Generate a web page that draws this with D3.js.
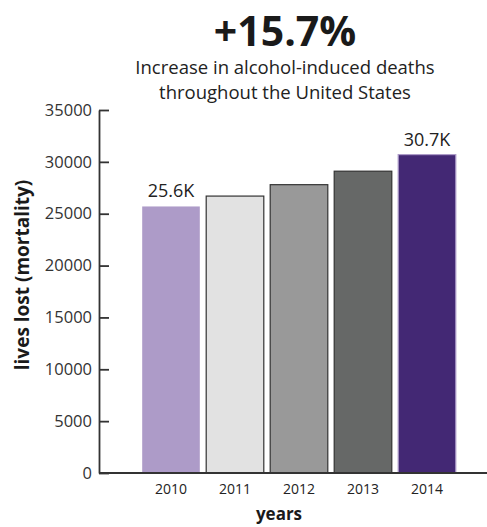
<!DOCTYPE html>
<html>
<head>
<meta charset="utf-8">
<script src="https://cdn.jsdelivr.net/npm/d3@7"></script>
<style>
  body { margin: 0; background: #fff; }
  text { font-family: "Open Sans", sans-serif; }
</style>
</head>
<body>
<div id="chart"></div>
<script>
const years = ['2010', '2011', '2012', '2013', '2014'];
const deaths = [25700, 26700, 27800, 29100, 30700];
const barLabels = ['25.6K', '', '', '', '30.7K'];
const yTicks = [0, 5000, 10000, 15000, 20000, 25000, 30000, 35000];

const fills = ['#ad9bc8', '#e2e2e2', '#999999', '#666867', '#432874'];
const strokes = ['none', '#333', '#333', '#333', '#ad9bc8'];

const width = 487, height = 527;

const svg = d3.select('#chart')
  .append('svg')
  .attr('width', width)
  .attr('height', height);

// scales
const x = d3.scaleBand()
  .domain(years)
  .range([139, 459])
  .paddingInner(0.1)
  .paddingOuter(0.05);

const y = d3.scaleLinear()
  .domain([0, 35000])
  .range([473, 110]);

// titles
svg.append('text')
  .attr('x', 285).attr('y', 46)
  .attr('text-anchor', 'middle')
  .style('font-size', '41px').style('font-weight', 'bold')
  .style('fill', '#1a1a1a')
  .text('+15.7%');

svg.append('text')
  .attr('x', 285).attr('y', 74)
  .attr('text-anchor', 'middle')
  .style('font-size', '18.5px').style('fill', '#222')
  .text('Increase in alcohol-induced deaths');

svg.append('text')
  .attr('x', 285).attr('y', 99)
  .attr('text-anchor', 'middle')
  .style('font-size', '18.5px').style('fill', '#222')
  .text('throughout the United States');

// bars
svg.selectAll('rect.bar')
  .data(years)
  .join('rect')
  .attr('class', 'bar')
  .attr('x', d => x(d))
  .attr('width', x.bandwidth())
  .attr('y', (d, i) => y(deaths[i]))
  .attr('height', (d, i) => y(0) - y(deaths[i]))
  .attr('fill', (d, i) => fills[i])
  .attr('stroke', (d, i) => strokes[i])
  .attr('stroke-width', 1.2);

// value labels
svg.selectAll('text.val')
  .data(years)
  .join('text')
  .attr('class', 'val')
  .attr('x', d => x(d) + x.bandwidth() / 2)
  .attr('y', (d, i) => y(deaths[i]) - 9)
  .attr('text-anchor', 'middle')
  .style('font-size', '18px').style('fill', '#222')
  .text((d, i) => barLabels[i]);

// y axis, ticks pointing inward
const yAxis = svg.append('g')
  .attr('transform', 'translate(99,0)')
  .call(d3.axisLeft(y).tickValues(yTicks).tickFormat(d3.format('d'))
    .tickSizeInner(-10).tickSizeOuter(0).tickPadding(7));
yAxis.select('.domain').attr('stroke', '#333').attr('stroke-width', 1.8);
yAxis.selectAll('.tick line').attr('stroke', '#333').attr('stroke-width', 1.8);
yAxis.selectAll('.tick text')
  .style('font-size', '16.5px').style('fill', '#333')
  .style('font-family', '"Open Sans", sans-serif');

// x axis line to the right edge
svg.append('line')
  .attr('x1', 99).attr('x2', width)
  .attr('y1', y(0)).attr('y2', y(0))
  .attr('stroke', '#333').attr('stroke-width', 1.8);

const xAxis = svg.append('g')
  .attr('transform', `translate(0,${y(0)})`)
  .call(d3.axisBottom(x).tickSize(0).tickPadding(11));
xAxis.select('.domain').remove();
xAxis.selectAll('.tick text')
  .style('font-size', '14px').style('fill', '#222')
  .style('font-family', '"Open Sans", sans-serif');

// axis titles
svg.append('text')
  .attr('transform', 'translate(29,275) rotate(-90)')
  .attr('text-anchor', 'middle')
  .style('font-size', '19px').style('font-weight', 'bold')
  .style('fill', '#1a1a1a')
  .text('lives lost (mortality)');

svg.append('text')
  .attr('x', 279).attr('y', 520)
  .attr('text-anchor', 'middle')
  .style('font-size', '17px').style('font-weight', 'bold')
  .style('fill', '#1a1a1a')
  .text('years');
</script>
</body>
</html>
